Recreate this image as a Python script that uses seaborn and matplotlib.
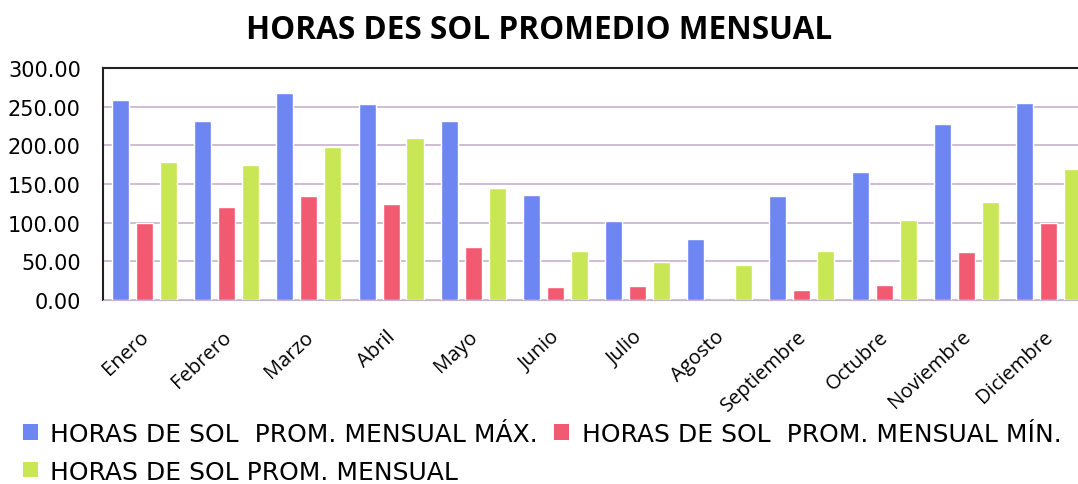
import matplotlib
matplotlib.use("Agg")
import matplotlib.pyplot as plt
import matplotlib.transforms as mtransforms
import numpy as np
import pandas as pd
import seaborn as sns
from matplotlib.patches import Patch

# ── Data ───────────────────────────────────────────────────────────────────
meses = ["Enero", "Febrero", "Marzo", "Abril", "Mayo", "Junio", "Julio",
         "Agosto", "Septiembre", "Octubre", "Noviembre", "Diciembre"]
sol_max = [259, 232, 268, 254, 231, 136, 102, 79, 135, 165, 228, 255]
sol_min = [99, 120, 135, 124, 69, 17, 18, 0, 13, 19, 62, 100]
sol_prom = [179, 175, 198, 209, 145, 63, 49, 45, 63, 104, 127, 170]

series = ["HORAS DE SOL  PROM. MENSUAL MÁX.",
          "HORAS DE SOL  PROM. MENSUAL MÍN.",
          "HORAS DE SOL PROM. MENSUAL"]
colores = ["#6E86F2", "#F25A72", "#C9E655"]
y_ticks = [0, 50, 100, 150, 200, 250, 300]

df = pd.DataFrame({"mes": meses * 3,
                   "serie": np.repeat(series, len(meses)),
                   "horas": sol_max + sol_min + sol_prom})

# ── Style ──────────────────────────────────────────────────────────────────
sns.set_style("white")
plt.rcParams["font.family"] = ["Open Sans", "DejaVu Sans"]
plt.rcParams["text.color"] = "black"
plt.rcParams["xtick.color"] = "black"
plt.rcParams["ytick.color"] = "black"

fig = plt.figure(figsize=(10.78, 4.85), dpi=100)
ax = fig.add_axes([103 / 1078, 184 / 485, 975 / 1078, 232 / 485])

sns.barplot(data=df, x="mes", y="horas", hue="serie", palette=colores,
            width=0.876, gap=0.29, saturation=1, legend=False, ax=ax, zorder=3)

ax.set_xlim(-0.505, 11.36)
ax.set_ylim(0, 300)
ax.set_yticks(y_ticks)
ax.set_yticklabels([f"{v:.2f}" for v in y_ticks], fontsize=15, family="DejaVu Sans")
ax.yaxis.grid(True, color="#C6B2CC", lw=1.2, zorder=0)
ax.set_xlabel("")
ax.set_ylabel("")
ax.tick_params(axis="both", length=0)
ax.tick_params(axis="y", pad=16)
ax.tick_params(axis="x", pad=19)
shift = mtransforms.ScaledTranslation(-5 / 100, 0, fig.dpi_scale_trans)
for lbl in ax.get_xticklabels():
    lbl.set_rotation(43)
    lbl.set_ha("right")
    lbl.set_rotation_mode("anchor")
    lbl.set_fontsize(14.5)
    lbl.set_transform(lbl.get_transform() + shift)

for side in ["left", "top"]:
    ax.spines[side].set_color("#222222")
    ax.spines[side].set_linewidth(1.5)
ax.spines["right"].set_visible(False)
ax.spines["bottom"].set_color("#C6B2CC")

fig.text(0.5, 0.937, "HORAS DES SOL PROMEDIO MENSUAL", ha="center", va="center",
         fontsize=22.7, fontweight="bold")

# legend rows: MÁX, MÍN on the first row, PROM on the second
handles = [Patch(facecolor=c, edgecolor="none") for c in colores]
orden = [0, 2, 1]
fig.legend([handles[i] for i in orden], [series[i] for i in orden],
           loc="upper left", bbox_to_anchor=(0.021, 0.128),
           ncol=2, frameon=False, prop={"family": "DejaVu Sans", "size": 18},
           handlelength=0.6, handleheight=0.56, handletextpad=0.5,
           columnspacing=0.66, labelspacing=0.55, borderpad=0, borderaxespad=0)

fig.savefig("out.png", dpi=100)
